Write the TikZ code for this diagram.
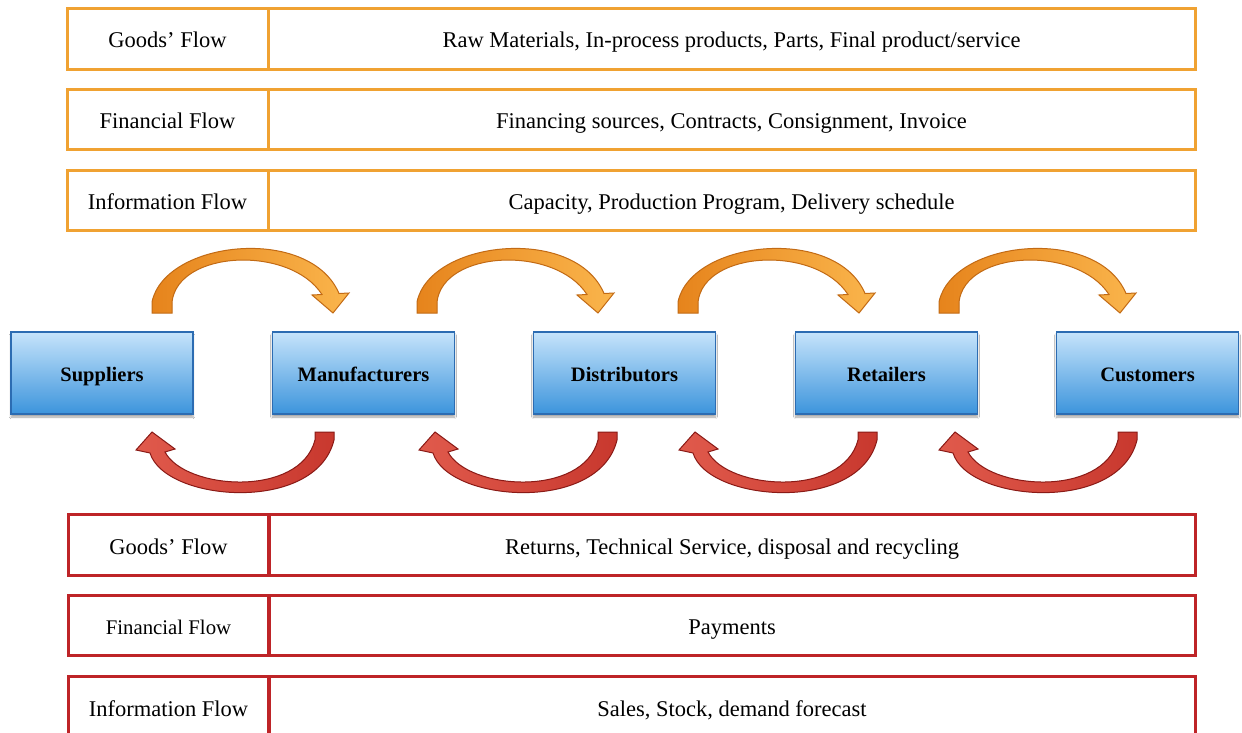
\documentclass[tikz,border=0pt]{standalone}
\usepackage{fontspec}
\setmainfont{Liberation Serif}
\usetikzlibrary{shadows.blur}
\definecolor{org}{HTML}{F0A232}
\definecolor{redl}{HTML}{BE2428}
\definecolor{bluetop}{HTML}{C6E4FB}
\definecolor{bluebot}{HTML}{3C94DC}
\definecolor{bluedge}{HTML}{2C6CB2}
\definecolor{orgdark}{HTML}{E6841C}
\definecolor{orglight}{HTML}{FAB54C}
\definecolor{orgedge}{HTML}{C26A14}
\definecolor{reddark}{HTML}{C8382E}
\definecolor{redlight}{HTML}{E05A4C}
\definecolor{redge}{HTML}{8A1A16}
\tikzset{
  cell/.style={draw=#1, line width=3pt, inner sep=0pt, outer sep=0pt,
    minimum height=60.5pt, text height=22pt, text depth=4pt,
    font=\fontsize{22.5}{26}\selectfont},
  labcell/.style={cell=#1, minimum width=201pt},
  txtcell/.style={cell=#1, minimum width=927pt},
  party/.style={draw=bluedge, line width=1.5pt, top color=bluetop, bottom color=bluebot,
    minimum width=182pt, minimum height=82pt, inner sep=0pt,
    text height=21pt, text depth=3.6pt,
    font=\bfseries\fontsize{20.5}{24}\selectfont,
    blur shadow={shadow xshift=0pt, shadow yshift=-3pt, shadow blur steps=6, shadow opacity=35}},
  fwdarrow/.style={draw=orgedge, line width=1pt, left color=orgdark, right color=orglight},
  backarrow/.style={draw=redge, line width=1pt, left color=redlight, right color=reddark},
}
\begin{document}
\begin{tikzpicture}[x=1pt,y=-1pt]
\clip (0,0) rectangle (1242,733);
\fill[white] (0,0) rectangle (1242,733);

% upper table (forward flows)
\node[labcell=org] (ug) at (167.5,39) {Goods' Flow};
\node[txtcell=org] (ugt) at (731.5,39) {Raw Materials, In-process products, Parts, Final product/service};
\node[labcell=org] (uf) at (167.5,119.5) {Financial Flow};
\node[txtcell=org] (uft) at (731.5,119.5) {Financing sources, Contracts, Consignment, Invoice};
\node[labcell=org] (ui) at (167.5,200.5) {Information Flow};
\node[txtcell=org] (uit) at (731.5,200.5) {Capacity, Production Program, Delivery schedule};

% lower table (backward flows)
\node[labcell=redl] (lg) at (168.5,545) {Goods' Flow};
\node[txtcell=redl] (lgt) at (732,545) {Returns, Technical Service, disposal and recycling};
\node[labcell=redl, font=\fontsize{20.8}{24}\selectfont] (lf) at (168.5,625.5) {Financial Flow};
\node[txtcell=redl] (lft) at (732,625.5) {Payments};
\node[labcell=redl] (li) at (168.5,707) {Information Flow};
\node[txtcell=redl] (lit) at (732,707) {Sales, Stock, demand forecast};

% supply chain parties
\node[party] (sup) at (102,373) {Suppliers};
\node[party] (man) at (363.5,373) {Manufacturers};
\node[party] (dis) at (624.5,373) {Distributors};
\node[party] (ret) at (886.5,373) {Retailers};
\node[party] (cus) at (1147.5,373) {Customers};

% forward curved arrows
\foreach \dx in {0,265,526,787}{
  \path[fwdarrow, xshift=\dx pt]
    (152,313) -- (152,302) .. controls (165,240) and (310,225) .. (339,293.5)
    -- (349,293) -- (333,313) -- (312,295) -- (322,294.5)
    .. controls (290,245) and (178,250) .. (172,302) -- (172,313) -- cycle;
}
% backward curved arrows
\foreach \dx in {0,283,543,803}{
  \path[backarrow, xshift=\dx pt]
    (315,432) -- (334,432) -- (334,440) .. controls (316,514) and (165,502) .. (150,453)
    -- (136,450) -- (152,432) -- (175,449) -- (165,452)
    .. controls (185,490) and (300,498) .. (315,440) -- cycle;
}
\end{tikzpicture}
\end{document}
